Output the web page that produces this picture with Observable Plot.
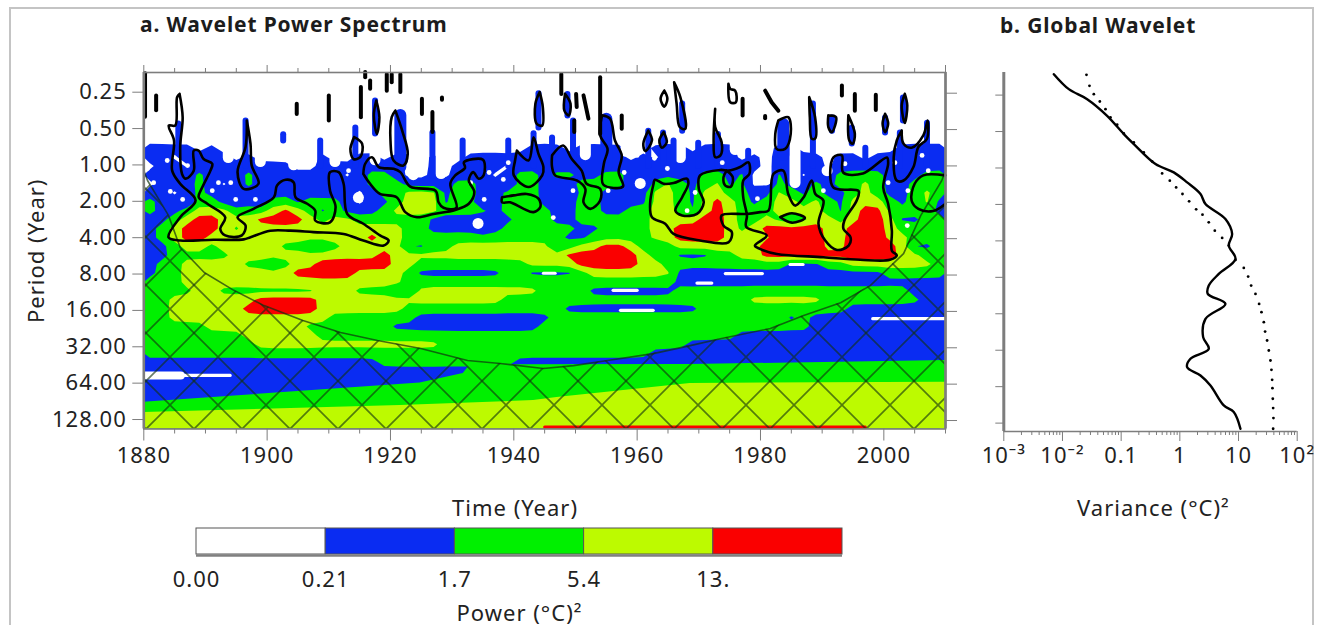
<!DOCTYPE html>
<html>
<head>
<meta charset="utf-8">
<script src="https://cdn.jsdelivr.net/npm/d3@7"></script>
<script src="https://cdn.jsdelivr.net/npm/@observablehq/plot@0.6"></script>
<style>
html,body{margin:0;padding:0;background:#fff;width:1319px;height:625px;overflow:hidden;font-family:"Noto Sans",sans-serif;}
#frame{position:absolute;left:9px;top:7px;width:1301px;height:640px;border:2px solid #c4c4c4;}
.ttl{position:absolute;font-weight:700;font-size:21px;color:#1c1c1c;line-height:24px;white-space:nowrap;letter-spacing:.85px;}
.pane{position:absolute;}
.pane svg{overflow:visible;display:block;}
.pane svg text{letter-spacing:1px;}
</style>
</head>
<body>
<div id="frame"></div>
<div class="ttl" style="left:140px;top:12px">a. Wavelet Power Spectrum</div>
<div class="ttl" style="left:1000px;top:13px">b. Global Wavelet</div>
<div class="pane" id="a" style="left:0;top:0"></div>
<div class="pane" id="b" style="left:970px;top:0"></div>
<div class="pane" id="c" style="left:0;top:515px"></div>
<script>
// Power class per grid cell (0 white … 4 red): 65 columns across 1880–2010, 40 rows from short to long period.
const powerRows = [
"00000 00000 00000 00000 00000 00000 00000 00000 00000 00000 00000 00000 00000",
"00000 00000 00000 00000 00000 00000 00000 00000 00000 00000 00000 00000 00000",
"00000 00000 00000 00000 00000 00000 00000 00000 00000 00000 00000 00000 00000",
"00000 00000 00000 00000 00000 00000 00000 00000 00000 00000 00000 00000 00000",
"00000 00000 00000 00000 00000 00000 00000 00000 00000 00000 00000 00000 00000",
"00000 00000 00000 00000 00000 00000 00000 00000 00000 00000 00000 00000 00000",
"00000 00000 00000 00000 00000 00000 00000 00000 00000 00000 00000 00000 00000",
"00000 00000 00000 00000 00000 00000 00000 00000 00000 00000 00000 00000 00000",
"11110 10000 00000 00000 00000 00000 01110 11110 01110 11100 01100 00000 01111",
"11011 11010 00001 00110 11010 01111 11111 11010 10111 11101 01111 01101 11111",
"01101 11111 11001 11111 10010 11110 11111 11111 11111 11111 01111 01111 11111",
"11112 11121 11111 10122 10010 11101 22122 11221 11111 22120 02101 12222 11122",
"01112 10121 11111 11122 21111 22110 22111 22221 02321 23120 02112 12232 11222",
"11012 11111 11111 11012 23331 22112 22110 22111 13321 33221 13212 11232 11232",
"21102 21010 22122 21011 23331 22012 22111 22111 13321 34321 23323 21333 21231",
"21123 33222 34321 21112 33332 22212 22211 22112 23321 34322 23333 21344 22221",
"11234 43334 44432 33222 22211 11111 22211 22222 23333 44322 32123 32344 31122",
"12344 43233 33333 33333 32211 11012 22222 11222 23344 44323 44444 33444 32222",
"12344 33333 33333 33343 32222 22222 22221 12222 23344 44333 34444 33444 33222",
"11233 23333 32211 23333 31122 33333 33312 33443 21233 33333 44444 33444 43112",
"11222 22333 33333 33334 33333 33333 33334 44444 32211 12233 44444 44444 43322",
"12233 33322 12334 44444 33222 22222 23333 44444 33222 22222 22111 22333 33332",
"12233 33333 33444 44333 32111 11112 21111 23333 33311 11111 11111 11111 22222",
"22233 33333 33333 33333 32222 22222 22222 22222 22211 11111 11111 11111 11111",
"22223 32222 22223 33222 11333 33333 33222 21111 11122 22222 22222 22222 22111",
"22333 33334 44443 33333 33333 33332 22222 22222 22222 22223 33333 22222 22211",
"22333 33344 44443 33333 32222 22222 22221 11111 11111 22222 22222 22111 11111",
"22333 33333 33333 22222 22111 11111 11122 22222 22222 22222 22121 11111 11111",
"22222 33333 33322 22222 11111 11111 11222 22222 22222 22222 22221 11111 11111",
"22222 22233 33332 22222 22222 22222 22222 22222 22222 22211 11111 11111 11111",
"22222 22223 33333 33333 33332 22222 22222 22222 22221 11111 11111 11111 11111",
"22222 22222 22222 22222 22222 22222 22222 22222 21111 11111 11111 11111 11111",
"11111 11111 11111 11112 22222 22222 11111 11111 11111 11111 11111 11111 11111",
"11111 11111 11111 11111 11111 11111 11111 11111 11111 11111 11111 11111 11111",
"11111 11111 11111 11111 11111 11111 11111 11111 11111 11111 11111 11111 11111",
"11111 11111 11111 11111 11111 11111 11111 11111 11111 11111 11111 11111 11111",
"11111 11111 11111 11111 11111 11111 11111 11111 11111 11111 11111 11111 11111",
"11111 11111 11111 11111 11111 11111 11111 11111 11111 11111 11111 11111 11111",
"11111 11111 11111 11111 11111 11111 11111 11111 11111 11111 11111 11111 11111",
"11111 11111 11111 11111 11111 11111 11111 11111 11111 11111 11111 11111 11111"
];
const powerColors = ["#ffffff","#0a2cf2","#00f000","#bdfa00","#fa0000"];
const legendLabels = ["0.00","0.21","1.7","5.4","13."];
const periodTicks = [0.25,0.5,1,2,4,8,16,32,64,128];
const yearMajor = [1880,1900,1920,1940,1960,1980,2000];

// Long-period band edges: [year, log2 period]
const greenBandTop = [[1880,6.5],[1924.8,5.97],[1931.8,5.71],[1932.9,5.47],[1968.6,5.46],[2010,5.35]];
const yellowBandTop = [[1880,6.78],[1921.6,6.59],[1943.2,6.45],[1947,6.37],[1968.6,5.98],[2010,5.95]];

// White gaps reaching down into the blue: [year, lowest log2 period reached]
const whiteNotches = [[1893.7,-.07],[1898.9,.04],[1904.3,.13],[1911,.04],[1917.5,-.01],[1923.7,.4],[1928.2,.37],[1951.6,-.15],[1958.2,-.24],[1967,-.07],[1975.9,-.29],[1980.9,.54],[1985.6,.62],[1990.2,-.4],[1995,-.43],[1998,-.43]];

// Narrow blue spikes at short periods: [year, top log2 period, bottom log2 period]
const blueSpikes = [
[1885.6,-1.17,-.43],[1896.5,-1.25,0],[1902.6,-.87,-.7],[1908.6,-.7,0],[1914.3,-1.06,0],[1917.5,-1.8,-.89],
[1926.8,-.92,.26],[1931.7,-.7,0],[1939.1,-.7,0],[1943.2,-.9,0],[1946.2,-.78,0],[1944,-2,-1.06],[1948.7,-1.98,-1.39],
[1949.6,-1.25,0],[1961.8,-.97,0],[1964.2,-.92,0],[1967.3,-1.72,-.97],[1965.9,-.7,0],[1969.9,-.64,0],[1973.1,-.88,0],
[1978,-.42,0],[1988.5,-1.72,0],[1991.6,-1.33,-.97],[1994.8,-1.06,-.62],[1997,-.5,0],[2000.2,-1.33,-.92],
[2003.1,-1.88,-1.25],[2002.6,-.92,0],[2007,-1.19,0]
];
const blueWide = [[1921.6,-1.4,.03],[1955,-1.3,0],[1983.7,-1.15,-.3]];

// Small holes of lowest power: [year, log2 period]
const whiteDots = [[1881.6,.46],[1884.3,.7],[1886.3,.92],[1887.1,-.01],[1883.8,-.15],[1880.6,.07],[1892.1,.46],[1894.1,.46],[1894.9,.92],[1898.1,.92],[1891.1,.68],[1913.2,.13],[1936,.18],[1939.1,-.09],[1938.3,.37],[1933,.46],[1949.6,.68],[1935.2,.92],[1946.4,1.42],[1960,-.29],[1962.8,-.21],[1964.9,.07],[1955.3,.68],[1957.9,.18],[1969.4,.73],[1968.1,1.23],[1973.8,-.09],[1979.5,.9],[1990.2,.68],[1993.7,-.06],[2001.8,-.09],[2006.2,-.29],[2007.2,.13],[2003.9,.68],[2000.7,.46],[2003.8,1.64]];
const whiteBlobs = [[1914.8,.87],[1934.2,1.58],[1960.5,.48],[1990.8,.13]];

// Significance contours as [year, log2 period]
const sigLoops = [
[[1885.8,-1.98],[1886.3,-1.34],[1885.9,-.52],[1886.2,.22],[1886.8,.35],[1888.1,.13],[1888.1,-.42],[1888.9,-.42],[1889.7,-.19],[1891.1,-.06],[1890.8,.13],[1889.5,.58],[1888.9,.86],[1890.3,1.04],[1893.2,1.41],[1892.4,1.73],[1893.2,1.91],[1895.9,1.91],[1896.5,1.64],[1895.2,1.41],[1897.8,1.18],[1901.1,.86],[1901.6,.54],[1903,.38],[1904.3,.45],[1904.6,.86],[1906.5,1.04],[1907.8,1.23],[1907.8,1.5],[1910.2,1.55],[1911.1,1.13],[1910.2,.68],[1910.2,.17],[1911.6,.17],[1912.4,.49],[1913,1.32],[1915.6,1.59],[1918.3,1.91],[1919.7,2.05],[1918.9,2.19],[1915.6,2.05],[1912.4,1.87],[1907.5,1.82],[1903.8,1.78],[1900.5,1.78],[1897.3,1.96],[1896.2,2.02],[1891.3,2.03],[1885.9,2.05],[1884,1.96],[1885.9,1.41],[1888.4,.95],[1885.9,.49],[1884.6,.13],[1884.9,-.7],[1884.05,-1.11],[1885.1,-1.11],[1885.4,-1.89]],
[[1896.7,-1.25],[1896.5,-.52],[1895.2,.17],[1896.2,.63],[1898.6,.49],[1897.5,-.01],[1897.3,-.61]],
[[1914.1,-.79],[1915.4,-.61],[1915.1,-.24],[1914,-.19],[1913.5,-.47]],
[[1917.7,-1.8],[1918.2,-1.34],[1917.8,-.88],[1917.3,-1.39]],
[[1920.8,-1.52],[1921.9,-.97],[1922.8,-.33],[1922.1,-.01],[1920.5,-.15],[1920,-.7],[1920.2,-1.34]],
[[1915.6,.22],[1915.9,-.06],[1917,-.24],[1918.1,.03],[1920.5,.08],[1921.6,.17],[1923.2,.57],[1927.3,.68],[1927.8,1],[1928.6,1.15],[1930.7,1.15],[1929.7,.49],[1930.5,.26],[1932.1,.05],[1931.9,-.1],[1935,-.17],[1935.1,.26],[1934.3,.35],[1933.4,.17],[1932.7,.4],[1933.6,.72],[1932.7,1.04],[1930.5,1.21],[1927,1.32],[1924.3,1.41],[1922.4,1.27],[1921,.86],[1918.3,.77],[1916.7,.49]],
[[1938.1,.86],[1940,.81],[1942.1,.77],[1944,.9],[1944.3,1.13],[1943.2,1.27],[1941.6,1.18],[1939.4,1],[1938.1,1]],
[[1944.2,-2.03],[1944.7,-1.62],[1944.6,-1.11],[1943.7,-1.16],[1943.5,-1.71]],
[[1948.3,-1.98],[1949.2,-1.71],[1948.9,-1.39],[1948.2,-1.52]],
[[1954.3,-1.39],[1955.6,-1.3],[1956.4,-.7],[1957.5,-.29],[1957,.17],[1957.7,.57],[1954.5,.51],[1954.6,-.06],[1955.2,-.47],[1954,-.84]],
[[1940.5,-.42],[1942.4,-.15],[1943.2,-.79],[1944,-.33],[1944.8,.03],[1944.6,.26],[1942.4,.58],[1940,.26],[1940.2,-.15]],
[[1946.2,-.29],[1948,-.56],[1949.4,-.19],[1951,.13],[1951.8,.49],[1954,.63],[1954,.95],[1952.4,1.18],[1951.3,1],[1951.6,.63],[1950.2,.4],[1946.7,.26],[1946.2,.03]],
[[1961.8,-.97],[1962.4,-.7],[1961.3,-.41],[1961,-.61]],
[[1964.3,-.93],[1964.8,-.65],[1964,-.5],[1963.6,-.7]],
[[1964.4,-2.07],[1964.9,-1.85],[1964.4,-1.63],[1963.8,-1.85]],
[[1966,-2.3],[1967,-1.89],[1967.8,-1.02],[1966.9,-1.07],[1966.4,-1.71]],
[[1962.66,.49],[1962.9,.38],[1964.3,.49],[1965.9,.47],[1968.06,.35],[1968.3,.49],[1967.3,.86],[1966.2,1.23],[1967.3,1.36],[1969.7,1.32],[1970.8,1],[1970,.63],[1970.2,.26],[1973.5,.11],[1974.8,.13],[1976.7,.03],[1978.05,-.1],[1978.2,.22],[1977.2,.4],[1977.2,.86],[1977.8,1.36],[1977.7,1.68],[1981,1.91],[1979.1,2.19],[1979.9,2.28],[1982.65,2.42],[1990.2,2.51],[1996.15,2.58],[2001,2.58],[2002.1,2.46],[2001.3,2.33],[2001.3,1.78],[2000.7,1.04],[1999.9,.59],[2000.7,-.07],[2000.5,-.23],[1996.6,.21],[1993.4,.18],[1993.2,-.29],[1991.8,-.23],[1991.8,.59],[1995.9,.69],[1995.6,.95],[1993.6,1.5],[1993.45,1.73],[1994.6,1.96],[1994.3,2.19],[1992.4,2.31],[1990.5,2.05],[1989.4,1.59],[1990.2,.95],[1988.9,.77],[1988.3,.4],[1987,.86],[1985.6,1.09],[1984.5,.77],[1983.7,.13],[1982.1,.22],[1981.3,1.23],[1979.95,1.27],[1977.8,1.32],[1973.7,1.36],[1974,1.64],[1975.35,1.82],[1974.8,2.1],[1970.2,2.05],[1965.9,1.87],[1964.55,1.59],[1962.4,1.41],[1962.1,1.04]],
[[1974.5,.13],[1975.5,.31],[1975.2,.57],[1974.3,.54],[1974,.31]],
[[1983.2,1.41],[1985.1,1.3],[1987.2,1.43],[1985.1,1.56]],
[[2002.9,-.97],[2002.1,-.7],[2001.6,-.24],[2002.1,.4],[2003.2,.4],[2004.8,.03],[2005.6,-.52],[2007,-.75],[2007.1,-1.25],[2006.4,-.84],[2004.5,-.5],[2003.2,-.61]],
[[1972.65,-1.57],[1972.65,-1.07],[1973.7,-.65],[1973.5,-.29],[1972.65,-.24],[1972.4,-.7]],
[[1974.8,-2.26],[1975.1,-1.75],[1976,-1.75],[1975.9,-2.07],[1975.1,-2.12]],
[[1982.9,-1.25],[1984.5,-1.34],[1984.9,-.88],[1984,-.47],[1982.6,-.47],[1982.4,-.88]],
[[1987.9,-1.89],[1988.85,-1.34],[1988.85,-.75],[1988.3,-.75],[1988,-1.34]],
[[1991,-1.39],[1992.25,-1.34],[1991.55,-.93],[1991,-1.07]],
[[1994.25,-1.39],[1995.3,-.88],[1994.95,-.61],[1994.4,-.7]],
[[2000.2,-1.43],[2000.7,-1.16],[2000.2,-.93],[1999.8,-1.16]],
[[2003.4,-1.98],[2003.8,-1.66],[2003.4,-1.18],[2002.9,-1.66]]
];
const sigOpen = [
[[2010,.26],[2006.4,.26],[2005,.49],[2004.5,.95],[2005.6,1.18],[2008,1.24],[2010,1.04]]
];
const sigSpikes = [
[[1880.2,-2.55],[1880.2,-1.35]],
[[1882,-1.94],[1882,-1.53]],
[[1904.8,-1.71],[1904.8,-1.43]],
[[1910,-1.94],[1910,-1.25]],
[[1915.2,-2.17],[1915.2,-1.34]],
[[1915.9,-2.58],[1915.9,-2.44]],
[[1916.7,-2.35],[1916.7,-2.12]],
[[1919.4,-2.53],[1919.4,-2.07]],
[[1920.2,-2.53],[1920.2,-2.3]],
[[1921.6,-2.53],[1921.6,-2.03]],
[[1925.1,-1.85],[1925.1,-1.43]],
[[1928.35,-1.88],[1928.35,-1.82]],
[[1926.8,-1.48],[1926.8,-.93]],
[[1947.7,-2.53],[1947.7,-1.98]],
[[1950.1,-1.98],[1950.2,-1.62]],
[[1949.8,-1.25],[1949.8,-.93]],
[[1951.3,-1.94],[1952.1,-1.3]],
[[1954,-2.44],[1954,-.88]],
[[1957.5,-1.39],[1957.5,-1.02]],
[[1977.1,-1.85],[1977.1,-1.39]],
[[1980.75,-2.07],[1981.8,-1.75],[1982.9,-1.52]],
[[1980.75,-1.37],[1980.75,-1.31]],
[[1993.2,-2.21],[1993.2,-1.94]],
[[1995.3,-1.98],[1995.3,-1.52]],
[[1998.7,-1.96],[1998.7,-1.54]]
];
// Thin streaks of lowest power, and the highest-power strip along the bottom
const whiteSlits = [
[[1998.2,4.2],[2010,4.2]],
[[1974.3,2.96],[1980.3,2.96]],
[[1969.7,3.22],[1972.1,3.22]],
[[1984.8,2.71],[1986.9,2.71]],
[[1956.1,3.42],[1960,3.42]],
[[1957.3,3.97],[1962.6,3.97]],
[[1944.8,2.95],[1946.7,2.95]],
[[1885,5.76],[1894,5.76]]
];
const whiteWedge = [[1880,5.76],[1886,5.76]];
const redStrip = [[1945,7.18],[1997,7.18]];
// Cone of influence: [year, log2 period]
const coi = [[1880,.125],[1880.6,.4],[1884,1.36],[1885.9,2.24],[1889.8,2.93],[1894.6,3.42],[1899.5,3.84],[1905.8,4.25],[1911.9,4.58],[1917.9,4.8],[1924.9,5.02],[1932.5,5.35],[1937.8,5.43],[1944.8,5.57],[1949.7,5.49],[1955.2,5.35],[1962.6,5.16],[1968.6,4.94],[1973.5,4.75],[1981.6,4.47],[1987,4.11],[1993,3.76],[1997.8,3.29],[2003.2,2.41],[2006,1.36],[2009.4,.4],[2010,.125]];

// Global wavelet spectrum: log10 variance and log2 period
const gwsLogVar = [-2.147,-1.892,-1.579,-1.239,-.955,-.784,-.415,-.103,.124,.352,.437,.777,.891,.834,.948,.664,.493,.476,.777,.437,.397,.493,.181,.124,.352,.522,.749,.919,1.033];
const gwsOct = [-2.574,-2.163,-1.889,-1.432,-.93,-.656,-.108,.12,.395,.714,.988,1.399,1.81,2.13,2.496,2.906,3.226,3.455,3.729,4.14,4.642,4.962,5.236,5.464,5.693,5.967,6.515,6.698,7.154];
const sigLogVar = [-1.591,-1.54,-1.466,-1.364,-1.267,-1.182,-1.068,-.955,-.784,-.614,-.472,-.302,-.171,-.063,.045,.158,.278,.386,.493,.596,.721,.834,.948,1.09,1.164,1.215,1.289,1.351,1.391,1.431,1.453,1.487,1.516,1.544,1.561,1.573,1.578,1.584,1.59,1.595,1.59];
const sigOct = [-2.556,-2.255,-2.026,-1.825,-1.615,-1.387,-1.186,-.948,-.702,-.428,-.181,.148,.349,.532,.714,.915,1.135,1.281,1.491,1.719,1.92,2.13,2.523,2.742,2.98,3.226,3.455,3.729,3.957,4.231,4.487,4.733,5.007,5.282,5.537,5.811,6.04,6.332,6.588,6.862,7.154];

const FONT = '"Noto Sans",sans-serif';
const nCols = 65, nRows = powerRows.length;
const powerGrid = powerRows.flatMap(r => Array.from(r.replace(/ /g,"").padEnd(nCols,"1").slice(0,nCols), Number));
const octTop = -2.569, octBottom = 7.233;
const minorYears = d3.range(1885, 2011, 5).filter(y => y % 20);
const octTicks = periodTicks.map(Math.log2);
const pts = (l) => l.map(([year, oct]) => ({year, oct}));
const toPts = (lines) => lines.flatMap((l, id) => l.map(([year, oct]) => ({id, year, oct})));
const closed = (lines) => lines.map(l => [...l, l[0]]);
const spikePts = (list) => list.flatMap(([y, a, b], id) => [{id, year:y, oct:a}, {id, year:y, oct:b}]);
const notchPts = whiteNotches.flatMap(([y, b], id) => [{id, year:y, oct:-1.1}, {id, year:y, oct:b - 0.16}]);
const coiPts = pts(coi);
const GRAY = "#7d7d7d";

const hatchDefs = () => {
  const s = d3.create("svg:defs");
  const p = s.append("pattern").attr("id","hatch").attr("patternUnits","userSpaceOnUse")
    .attr("width",48).attr("height",48).attr("patternTransform","translate(26,21)");
  [["0","0","48","48"],["48","0","0","48"]].forEach(([a,b,c,d]) =>
    p.append("line").attr("x1",a).attr("y1",b).attr("x2",c).attr("y2",d)
     .attr("stroke","#10300f").attr("stroke-opacity",.62).attr("stroke-width",1.7));
  return s.node();
};

const panelA = Plot.plot({
  width: 960, height: 525,
  marginLeft: 143.3, marginRight: 15, marginTop: 72, marginBottom: 96.5,
  style: {fontFamily: FONT, fontSize: "22px", color: "#222", background: "transparent", overflow: "visible"},
  x: {domain: [1880, 2010]},
  y: {domain: [octTop, octBottom], range: [72, 428.5]},
  color: {type: "threshold", domain: [1, 2, 3], range: powerColors.slice(1)},
  marks: [
    hatchDefs,
    Plot.contour(powerGrid, {
      width: nCols, height: nRows, x1: 1880, x2: 2010, y1: octTop, y2: octBottom,
      value: Plot.identity, fill: "value", stroke: "none", blur: 0.05,
      thresholds: [0.5, 1.5, 2.5, 3.4]
    }),
    Plot.line(notchPts, {x:"year", y:"oct", z:"id", stroke:"#fff", strokeWidth:11, strokeLinecap:"round"}),
    Plot.line(spikePts(blueSpikes), {x:"year", y:"oct", z:"id", stroke:powerColors[1], strokeWidth:6, strokeLinecap:"round"}),
    Plot.line(spikePts(blueWide), {x:"year", y:"oct", z:"id", stroke:powerColors[1], strokeWidth:12, strokeLinecap:"round"}),
    Plot.areaY(pts(greenBandTop), {x:"year", y1:"oct", y2:() => octBottom, fill:powerColors[2]}),
    Plot.areaY(pts(yellowBandTop), {x:"year", y1:"oct", y2:() => octBottom, fill:powerColors[3]}),
    Plot.dot(pts(whiteDots), {x:"year", y:"oct", r:2.4, fill:"#fff"}),
    Plot.dot(pts(whiteBlobs), {x:"year", y:"oct", r:5.5, fill:"#fff"}),
    Plot.line(toPts(whiteSlits), {x:"year", y:"oct", z:"id", stroke:"#fff", strokeWidth:3.2, strokeLinecap:"round"}),
    Plot.line(pts(whiteWedge), {x:"year", y:"oct", stroke:"#fff", strokeWidth:8}),
    Plot.line(pts(redStrip), {x:"year", y:"oct", stroke:powerColors[4], strokeWidth:3}),
    Plot.areaY(coiPts, {x:"year", y1:"oct", y2:() => octBottom, fill:"url(#hatch)"}),
    Plot.line(coiPts, {x:"year", y:"oct", stroke:"#10300f", strokeOpacity:.7, strokeWidth:1.6}),
    Plot.line(toPts(closed(sigLoops)), {x:"year", y:"oct", z:"id", stroke:"#000", strokeWidth:2.6, curve:"catmull-rom", strokeLinejoin:"round"}),
    Plot.line(toPts(sigOpen), {x:"year", y:"oct", z:"id", stroke:"#000", strokeWidth:2.6, curve:"catmull-rom"}),
    Plot.line(toPts(sigSpikes), {x:"year", y:"oct", z:"id", stroke:"#000", strokeWidth:4, strokeLinecap:"round"}),
    Plot.frame({stroke: GRAY, strokeWidth: 1.6}),
    Plot.ruleX([1880, 2010], {stroke: GRAY, strokeWidth: 2.6}),
    Plot.axisY({anchor:"left", ticks: octTicks, tickFormat: d => (2 ** d).toFixed(2), tickSize: 11, tickPadding: 6, stroke: GRAY, dy:-1,
      label:"Period (Year)", labelAnchor:"center", labelOffset: 115, labelArrow:false}),
    Plot.axisY({anchor:"right", ticks: octTicks, fill:"none", tickSize: 11, stroke: GRAY, label:null}),
    Plot.axisX({anchor:"bottom", ticks: yearMajor, tickFormat: d3.format("d"), tickSize: 12, tickPadding: 6, stroke: GRAY, label:null}),
    Plot.axisX({anchor:"bottom", ticks: minorYears, fill:"none", tickSize: 5, stroke: GRAY, label:null}),
    Plot.axisX({anchor:"top", ticks: yearMajor.concat(2010), fill:"none", tickSize: 8, stroke: GRAY, label:null}),
    Plot.axisX({anchor:"top", ticks: minorYears, fill:"none", tickSize: 5, stroke: GRAY, label:null}),
    Plot.text(["Time (Year)"], {x:1940.2, y:octBottom, dy:80, text:Plot.identity, fontSize:22})
  ]
});
document.getElementById("a").append(panelA);

const gwsPts = gwsLogVar.map((v,i) => ({variance: 10**v, period: 2**gwsOct[i]}));
const sigPts = sigLogVar.map((v,i) => ({variance: 10**v, period: 2**sigOct[i]}));
const varMajor = [1e-3,1e-2,0.1,1,10,100];
const varLabels = ["10\u207B\u00B3","10\u207B\u00B2","0.1","1","10","10\u00B2"];
const varMinor = varMajor.slice(0,-1).flatMap(d => [2,3,4,5,6,7,8,9].map(k => d*k));

const panelB = Plot.plot({
  width: 345, height: 525,
  marginLeft: 33.3, marginRight: 18.3, marginTop: 72, marginBottom: 94,
  style: {fontFamily: FONT, fontSize: "22px", color: "#222", background: "transparent", overflow: "visible"},
  x: {type: "log", domain: [1e-3, 100]},
  y: {type: "log", base: 2, domain: [2 ** -2.62, 2 ** 7.23], range: [72, 431]},
  marks: [
    Plot.ruleX([1e-3], {stroke: GRAY, strokeWidth: 3}),
    Plot.ruleY([2 ** 7.23], {stroke: GRAY, strokeWidth: 1.6}),
    Plot.line(gwsPts, {x:"variance", y:"period", stroke:"#000", strokeWidth:2.4, curve:"catmull-rom"}),
    Plot.dot(sigPts, {x:"variance", y:"period", r:1.4, fill:"#000"}),
    Plot.axisY({anchor:"left", ticks: periodTicks, fill:"none", tickSize: 8, stroke: GRAY, label:null}),
    Plot.axisX({anchor:"bottom", ticks: varMajor, tickFormat: d => varLabels[varMajor.indexOf(d)], tickSize: 10, tickPadding: 6, stroke: GRAY, label:null}),
    Plot.axisX({anchor:"bottom", ticks: varMinor, fill:"none", tickSize: 4, stroke: GRAY, label:null}),
    Plot.text(["Variance (°C)²"], {x:0.355, y:2**7.23, dy:77, text:Plot.identity, fontSize:22})
  ]
});
document.getElementById("b").append(panelB);

const legendEdges = [0,1,2,3,4,5];
const legendBins = powerColors.map((c,i) => ({c, x1: legendEdges[i], x2: legendEdges[i+1]}));
const panelC = Plot.plot({
  width: 960, height: 110,
  marginLeft: 196, marginRight: 118, marginTop: 13, marginBottom: 71,
  style: {fontFamily: FONT, fontSize: "22px", color: "#222", background: "transparent", overflow: "visible"},
  x: {domain: [0, 5], axis: null},
  y: {domain: [0, 1], axis: null},
  marks: [
    Plot.rect(legendBins, {x1:"x1", x2:"x2", y1:0, y2:1, fill: d => d.c, stroke:"#555", strokeWidth:1}),
    Plot.ruleY([0], {stroke:"#808080", strokeWidth:2.5, dy:1}),
    Plot.text(legendLabels, {x:(d,i) => legendEdges[i], y:0, dy:25, text: Plot.identity, fontSize:22}),
    Plot.text(["Power (°C)²"], {x:2.5, y:0, dy:59, text: Plot.identity, fontSize:22})
  ]
});
document.getElementById("c").append(panelC);
</script>
</body>
</html>
